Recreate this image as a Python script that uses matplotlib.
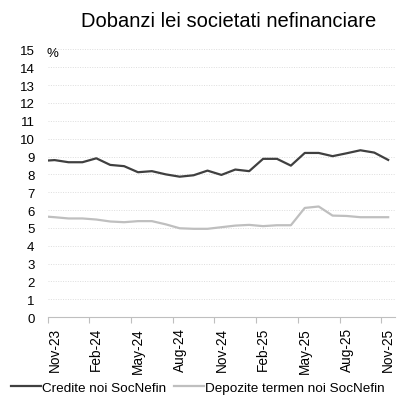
import numpy as np
import matplotlib
matplotlib.use("Agg")
import matplotlib.pyplot as plt

# monthly rates, Oct-23 .. Nov-25 (values sit mid-month)
months = ["Oct-23", "Nov-23", "Dec-23", "Jan-24", "Feb-24", "Mar-24", "Apr-24",
          "May-24", "Jun-24", "Jul-24", "Aug-24", "Sep-24", "Oct-24", "Nov-24",
          "Dec-24", "Jan-25", "Feb-25", "Mar-25", "Apr-25", "May-25", "Jun-25",
          "Jul-25", "Aug-25", "Sep-25", "Oct-25", "Nov-25"]
credite = [8.75, 8.80, 8.68, 8.68, 8.90, 8.53, 8.46, 8.12, 8.18, 8.00, 7.87,
           7.95, 8.21, 7.97, 8.27, 8.18, 8.87, 8.87, 8.49, 9.20, 9.20, 9.02,
           9.18, 9.35, 9.22, 8.81]
depozite = [5.66, 5.60, 5.53, 5.53, 5.47, 5.36, 5.32, 5.38, 5.38, 5.20, 4.98,
            4.95, 4.95, 5.04, 5.13, 5.17, 5.10, 5.15, 5.15, 6.12, 6.20, 5.69,
            5.67, 5.60, 5.60, 5.60]
tick_labels = ["Nov-23", "Feb-24", "May-24", "Aug-24", "Nov-24",
               "Feb-25", "May-25", "Aug-25", "Nov-25"]

FONT = "Liberation Sans"
FS = 9.5


def main():
  plt.rcParams["font.family"] = [FONT, "DejaVu Sans"]
  fig = plt.figure(figsize=(4.04, 4.10), dpi=100)
  ax = fig.add_axes([0.118, 0.224, 0.860, 0.653])

  # month index 0 = start of Nov-23; points are drawn mid-month
  x = np.arange(len(months)) - 1 + 0.5
  ax.plot(x, credite, color="#404040", lw=1.6, label="Credite noi SocNefin")
  ax.plot(x, depozite, color="#BFBFBF", lw=1.6, label="Depozite termen noi SocNefin")

  ax.set_xlim(0, 25)
  ax.set_ylim(0, 15)
  ax.set_yticks(range(0, 16))
  ax.tick_params(axis="y", length=0, pad=9.5, labelsize=FS)
  for y in range(1, 16):
    ax.axhline(y, color="#DDDDDD", lw=0.7, ls=(0, (1, 1.5)), zorder=0)

  # tick marks every quarter, labels centred on the month
  major = np.arange(0, 25, 3)
  ax.set_xticks(major)
  ax.set_xticklabels([])
  ax.set_xticks(major + 0.5, tick_labels, minor=True, rotation=90)
  ax.tick_params(axis="x", which="major", length=4, width=0.8, color="#BFBFBF", direction="out")
  ax.tick_params(axis="x", which="minor", length=0, pad=7, labelsize=9.8)
  for lbl in ax.get_xticklabels(minor=True):
    lbl.set_verticalalignment("top")

  for s in ["top", "right", "left"]:
    ax.spines[s].set_visible(False)
  ax.spines["bottom"].set_color("#BFBFBF")
  ax.spines["bottom"].set_linewidth(0.8)

  ax.text(-0.05, 14.8, "%", ha="left", va="center", fontsize=FS)

  fig.text(0.567, 0.947, "Dobanzi lei societati nefinanciare", ha="center",
           va="center", fontsize=14.5)

  fig.legend(loc="center", bbox_to_anchor=(0.49, 0.052), ncol=2, frameon=False,
             fontsize=9.7, handlelength=2.2, handletextpad=0.1, columnspacing=0.6)

  fig.savefig("out.png", dpi=100)


if __name__ == "__main__":
  main()
